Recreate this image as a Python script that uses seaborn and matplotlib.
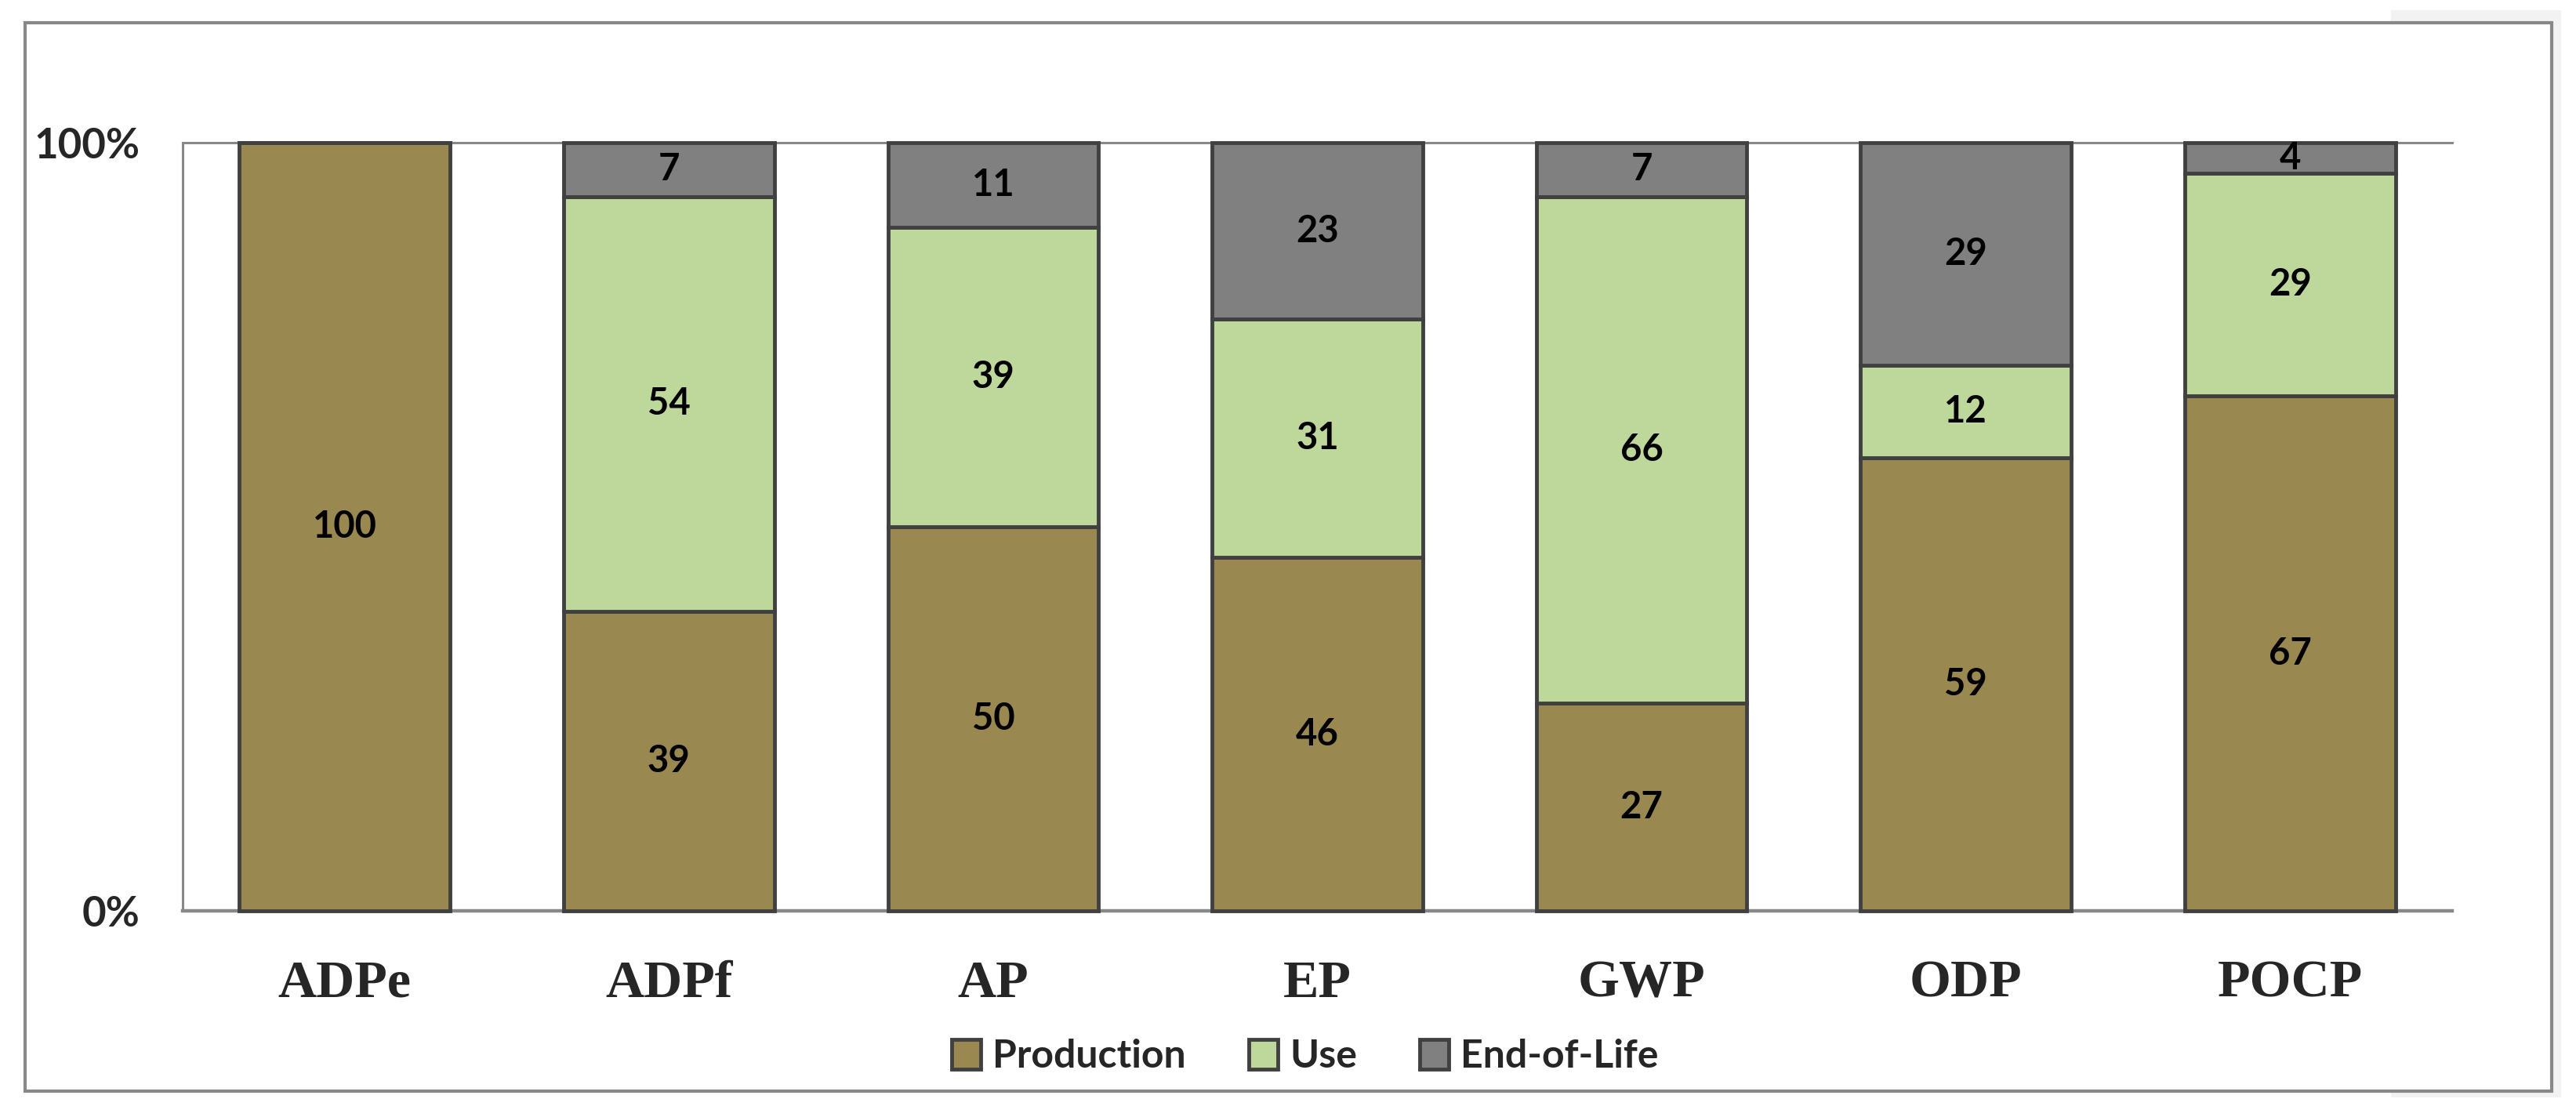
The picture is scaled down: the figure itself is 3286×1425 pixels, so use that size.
import matplotlib
matplotlib.use("Agg")
import matplotlib.pyplot as plt
import seaborn as sns
import pandas as pd
import numpy as np
from matplotlib.patches import Rectangle

categories = ["ADPe", "ADPf", "AP", "EP", "GWP", "ODP", "POCP"]
production = [100, 39, 50, 46, 27, 59, 67]
use = [0, 54, 39, 31, 66, 12, 29]
end_of_life = [0, 7, 11, 23, 7, 29, 4]
series_names = ["Production", "Use", "End-of-Life"]
series_colors = ["#99884F", "#BED79A", "#808080"]
y_ticks = [0, 100]
y_tick_labels = ["0%", "100%"]

sns.set_style("white")
plt.rcParams["font.family"] = ["Lato", "DejaVu Sans"]

W, H = 3286, 1425
fig = plt.figure(figsize=(W / 100, H / 100), dpi=100)
fig.patch.set_facecolor("white")

def fr(x0, y0, x1, y1):
    return (x0 / W, 1 - y1 / H), (x1 - x0) / W, (y1 - y0) / H

xy, w, h = fr(3050, 13, 3267, 1400)
fig.patches.append(Rectangle(xy, w, h, transform=fig.transFigure,
                             facecolor="#F2F2F2", edgecolor="none", zorder=0))
xy, w, h = fr(32, 29, 3255, 1392)
fig.patches.append(Rectangle(xy, w, h, transform=fig.transFigure,
                             facecolor="white", edgecolor="#888888",
                             linewidth=3, zorder=1))

ax = fig.add_axes([233 / W, 1 - 1162 / H, (3128 - 233) / W, (1162 - 182) / H])
ax.set_zorder(2)

df = pd.DataFrame({"category": categories, "Production": production,
                   "Use": use, "End-of-Life": end_of_life})

bottoms = np.zeros(len(categories))
for name, color in zip(series_names, series_colors):
    vals = df[name].to_numpy()
    sns.barplot(data=df, x="category", y=name, order=categories, color=color,
                saturation=1, width=0.65, bottom=bottoms.copy(),
                edgecolor="#404040", linewidth=3.5, label=name,
                errorbar=None, ax=ax, clip_on=False, zorder=3)
    container = ax.containers[-1]
    ax.bar_label(container, labels=[str(v) if v > 0 else "" for v in vals],
                 label_type="center", fontsize=34, fontweight="bold",
                 color="black", zorder=4)
    bottoms += vals

ax.set_xlim(-0.5, len(categories) - 0.5)
ax.set_ylim(0, 100)
ax.set_yticks(y_ticks, y_tick_labels)
ax.set_xlabel("")
ax.set_ylabel("")
ax.tick_params(axis="y", length=0, pad=39, labelsize=38)
ax.tick_params(axis="x", length=0, pad=45, labelsize=49)
for t in ax.get_yticklabels():
    t.set_fontweight("bold")
for t in ax.get_xticklabels():
    t.set_fontweight("bold")
    t.set_fontfamily(["Liberation Serif", "DejaVu Serif"])

ax.spines["right"].set_visible(False)
for side, lw in [("top", 2.2), ("left", 2.2), ("bottom", 3.2)]:
    ax.spines[side].set_color("#888888")
    ax.spines[side].set_linewidth(lw)
    ax.spines[side].set_zorder(1)

ax.legend(loc="center", bbox_to_anchor=(1665 / W, 1 - 1348 / H),
          bbox_transform=fig.transFigure, ncol=3, frameon=False,
          prop={"weight": "bold", "size": 36},
          handlelength=0.74, handleheight=0.78, handletextpad=0.3,
          columnspacing=1.6, borderaxespad=0)

fig.savefig("out.png", dpi=100, facecolor="white")
